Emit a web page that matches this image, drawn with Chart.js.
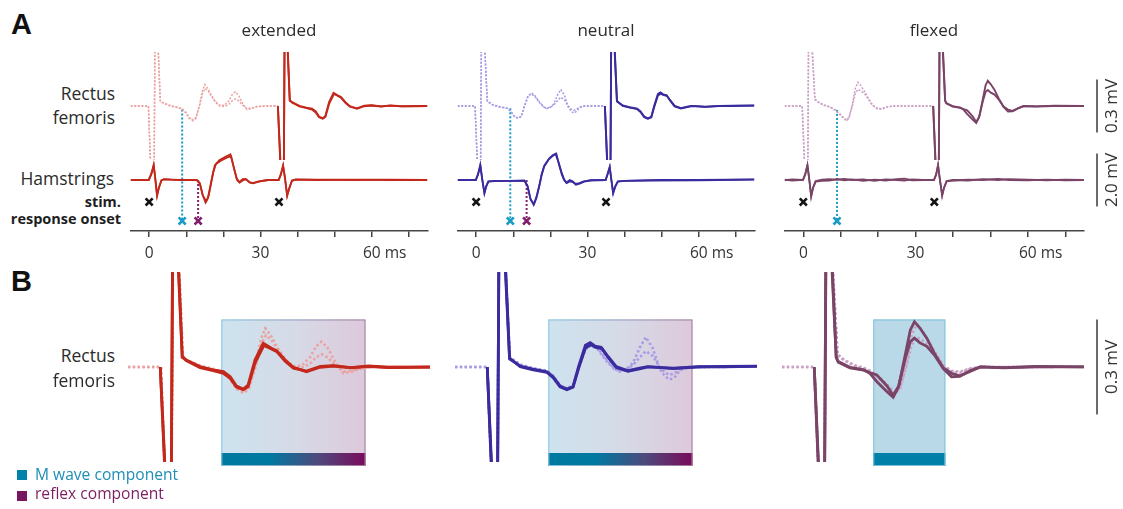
<!DOCTYPE html>
<html>
<head>
<meta charset="utf-8">
<script src="https://cdn.jsdelivr.net/npm/chart.js@4.4.1/dist/chart.umd.min.js"></script>
<style>
  body { margin: 0; background: #fff; }
  #wrap { position: relative; width: 1123px; height: 509px; overflow: hidden; background: #fff;
          font-family: 'Open Sans', sans-serif; color: #2b2b2b; }
  canvas { position: absolute; }
  .t { position: absolute; white-space: nowrap; line-height: 1; }
  .r { text-align: right; }
  .lab { font-size: 17.5px; }
  .bold { font-weight: bold; font-size: 14.5px; color: #1e1e1e; }
  .big { font: bold 29px 'Liberation Sans', Arial, sans-serif; color: #111; }
  .head { font-size: 17px; transform: translateX(-50%); }
  .sq { position: absolute; width: 10px; height: 10px; }
</style>
</head>
<body>
<div id="wrap">
  <canvas id="a0" width="312" height="221" style="left:123px;top:40px"></canvas>
  <canvas id="a1" width="312" height="221" style="left:450px;top:40px"></canvas>
  <canvas id="a2" width="346" height="221" style="left:777px;top:40px"></canvas>
  <canvas id="b0" width="312" height="210" style="left:123px;top:262px"></canvas>
  <canvas id="b1" width="312" height="210" style="left:450px;top:262px"></canvas>
  <canvas id="b2" width="346" height="210" style="left:777px;top:262px"></canvas>

  <div class="t big" style="left:11px;top:8px">A</div>
  <div class="t big" style="left:11px;top:265px">B</div>

  <div class="t head" style="left:279px;top:21px">extended</div>
  <div class="t head" style="left:606px;top:21px">neutral</div>
  <div class="t head" style="left:934px;top:21px">flexed</div>

  <div class="t lab r" style="right:1008px;top:85px">Rectus</div>
  <div class="t lab r" style="right:1008px;top:109px">femoris</div>
  <div class="t lab r" style="right:1009px;top:170px">Hamstrings</div>
  <div class="t bold r" id="row1" style="right:1002px;top:195px"></div>
  <div class="t bold r" id="row2" style="right:1002px;top:212px"></div>

  <div class="t lab r" style="right:1008px;top:347px">Rectus</div>
  <div class="t lab r" style="right:1008px;top:372px">femoris</div>

  <div class="sq" style="left:17px;top:470px;background:#0082a9"></div>
  <div class="t" style="left:35px;top:467px;font-size:15.6px;color:#1f8db6">M wave component</div>
  <div class="sq" style="left:17px;top:491px;background:#7a1660"></div>
  <div class="t" style="left:35px;top:486px;font-size:15.6px;color:#7b1f61">reflex component</div>
</div>

<script>
// ---- data (ms, mV) ----
const conditions = ['extended', 'neutral', 'flexed'];
const stimTimes = [0, 35];
const xTickMarks = [0, 10, 20, 30, 40, 50, 60, 70];
const xTickValues = [0, 30, 60];
const xTickLabels = ['0', '30', '60'];
const markRows = ['stim.', 'response onset'];

// rectus femoris, response to 1st stimulus (light dotted traces)
const extRf1a = [[-5,0],[-0.2,0],[0.35,-0.33],[0.7,-1.5],[1.0,-1.5],[1.9,1.5],[2.2,1.5],[2.45,0.3],[3.0,0.03],[3.5,0.022],[5.5,0.004],[7.4,-0.006],[8.9,-0.015],[9.9,-0.035],[10.8,-0.066],[11.8,-0.083],[12.6,-0.07],[13.6,0.01],[14.4,0.09],[15.0,0.122],[15.8,0.1],[16.8,0.06],[17.9,0.025],[19.1,0.002],[20.3,0.004],[21.5,0.03],[22.4,0.065],[23.2,0.08],[24.1,0.06],[25.2,0.015],[26.4,-0.02],[27.6,-0.015],[29,-0.004],[31,0],[34.7,0]];
const extRf1b = [[-5,0],[-0.2,0],[0.4,-0.33],[0.7,-1.5],[1.0,-1.5],[1.9,1.5],[2.2,1.5],[2.5,0.3],[3.0,0.025],[3.5,0.02],[5.5,0.002],[7.4,-0.008],[8.9,-0.018],[9.9,-0.04],[10.8,-0.07],[11.8,-0.078],[12.6,-0.065],[13.6,0.0],[14.4,0.07],[15.1,0.1],[15.9,0.085],[16.8,0.055],[17.9,0.02],[19.1,0.0],[20.3,-0.003],[21.5,0.01],[22.4,0.03],[23.2,0.04],[24.1,0.03],[25.2,0.005],[26.4,-0.015],[27.6,-0.012],[29,-0.003],[31,0],[34.7,0]];
const neuRf1a = [[-5,0],[-0.3,0],[0.3,-0.33],[0.6,-1.5],[0.9,-1.5],[1.7,1.5],[2.1,1.5],[2.35,0.3],[3.0,0.03],[4.5,0.008],[6.4,-0.004],[8.4,-0.012],[9.3,-0.028],[10.3,-0.058],[11.3,-0.07],[12.2,-0.06],[13,-0.005],[14,0.055],[14.9,0.075],[15.8,0.06],[17.1,0.022],[18.2,-0.005],[19,-0.015],[20,-0.008],[20.9,0.012],[21.9,0.06],[22.8,0.094],[23.8,0.06],[24.8,-0.005],[25.6,-0.03],[26.3,-0.04],[27.1,-0.03],[27.8,-0.01],[29.2,0],[34.7,0]];
const neuRf1b = [[-5,0],[-0.3,0],[0.35,-0.33],[0.6,-1.5],[0.9,-1.5],[1.7,1.5],[2.1,1.5],[2.4,0.3],[3.0,0.025],[4.5,0.005],[6.4,-0.006],[8.4,-0.014],[9.3,-0.03],[10.3,-0.06],[11.3,-0.068],[12.2,-0.058],[13,0.0],[14,0.06],[14.9,0.068],[15.8,0.055],[17.1,0.018],[18.2,-0.006],[19,-0.012],[20,-0.006],[20.9,0.005],[21.9,0.03],[22.8,0.05],[23.8,0.035],[24.8,0.0],[25.6,-0.018],[26.3,-0.025],[27.1,-0.018],[27.8,-0.006],[29.2,0],[34.7,0]];
const flexRf1a = [[-5,0],[-0.3,0],[0.3,-0.33],[0.6,-1.5],[0.9,-1.5],[1.7,1.5],[2.1,1.5],[2.4,0.3],[3.1,0.04],[4.1,0.022],[5.5,0.006],[6.8,-0.002],[7.8,-0.012],[8.8,-0.025],[10.3,-0.055],[11.5,-0.085],[12.2,-0.07],[13.1,0.01],[13.9,0.1],[14.6,0.135],[15.4,0.115],[16.4,0.08],[17.5,0.04],[18.5,0.005],[19.7,-0.015],[20.9,-0.018],[22.4,-0.006],[24,0],[34.7,0]];
const flexRf1b = [[-5,0],[-0.3,0],[0.35,-0.33],[0.6,-1.5],[0.9,-1.5],[1.7,1.5],[2.1,1.5],[2.45,0.3],[3.1,0.035],[4.1,0.02],[5.5,0.004],[6.8,-0.004],[7.8,-0.014],[8.8,-0.03],[10.3,-0.06],[11.5,-0.078],[12.2,-0.065],[13.1,0.0],[13.9,0.07],[14.6,0.094],[15.4,0.085],[16.4,0.068],[17.5,0.035],[18.5,0.004],[19.7,-0.012],[20.9,-0.015],[22.4,-0.005],[24,0],[34.7,0]];

// rectus femoris, response to 2nd stimulus, time from that stimulus (solid traces)
const extRf2a = [[-0.3,0],[0.35,-0.32],[0.6,-1.5],[1.0,-1.5],[1.8,1.5],[2.2,1.5],[2.35,0.3],[2.9,0.03],[3.5,0.022],[5.5,0.001],[7.4,-0.009],[8.9,-0.015],[9.9,-0.031],[10.8,-0.06],[11.8,-0.07],[12.5,-0.057],[13.5,0.022],[14.7,0.075],[15.9,0.059],[16.7,0.051],[17.9,0.022],[19.1,-0.001],[21,-0.015],[23,-0.001],[24.9,0.003],[27.5,-0.003],[30,0.002],[33,-0.002],[40,0]];
const extRf2b = [[-0.3,0],[0.4,-0.32],[0.6,-1.5],[1.0,-1.5],[1.8,1.5],[2.2,1.5],[2.4,0.3],[2.9,0.035],[3.5,0.02],[5.5,-0.002],[7.4,-0.012],[8.9,-0.02],[9.9,-0.036],[10.8,-0.064],[11.8,-0.072],[12.5,-0.062],[13.5,0.012],[14.8,0.068],[15.9,0.057],[16.7,0.048],[17.9,0.018],[19.1,-0.004],[21,-0.013],[23,0.002],[24.9,0.004],[27.5,-0.002],[30,0.003],[33,-0.001],[40,0]];
const neuRf2a = [[-0.3,0],[0.3,-0.32],[0.6,-1.5],[0.9,-1.5],[1.7,1.5],[2.1,1.5],[2.35,0.3],[2.95,0.025],[4.5,0.003],[6.4,-0.007],[8.4,-0.015],[9.3,-0.031],[10.3,-0.06],[11.3,-0.07],[12.2,-0.062],[13,0.001],[14,0.069],[14.7,0.077],[15.4,0.066],[16.3,0.062],[17.3,0.033],[18.5,0.001],[20.2,-0.012],[21.9,-0.004],[23.1,0.001],[26.8,-0.005],[30.6,0],[34,0.002],[40,0.003]];
const neuRf2b = [[-0.3,0],[0.35,-0.32],[0.6,-1.5],[0.9,-1.5],[1.7,1.5],[2.1,1.5],[2.4,0.3],[2.95,0.028],[4.5,0.001],[6.4,-0.009],[8.4,-0.017],[9.3,-0.034],[10.3,-0.063],[11.3,-0.072],[12.2,-0.064],[13,-0.005],[14,0.06],[14.8,0.07],[15.5,0.062],[16.4,0.058],[17.3,0.03],[18.5,-0.002],[20.2,-0.014],[21.9,-0.006],[23.1,0.0],[26.8,-0.004],[30.6,0.001],[34,0],[40,0.002]];
const flexRf2a = [[-0.3,0],[0.3,-0.32],[0.6,-1.5],[0.9,-1.5],[1.7,1.5],[2.1,1.5],[2.3,0.3],[2.9,0.03],[3.2,0.017],[4.9,-0.001],[6.9,-0.009],[7.8,-0.02],[8.8,-0.046],[10.3,-0.078],[11.2,-0.096],[12,-0.062],[13,0.043],[13.7,0.117],[14.3,0.143],[15.1,0.123],[16.1,0.091],[17.3,0.039],[18.5,-0.003],[19.7,-0.02],[20.9,-0.028],[22.4,-0.014],[23.9,0],[27.3,-0.002],[32,0.002],[40,0]];
const flexRf2b = [[-0.3,0],[0.35,-0.32],[0.6,-1.5],[0.9,-1.5],[1.7,1.5],[2.1,1.5],[2.35,0.3],[2.9,0.03],[3.2,0.015],[4.9,-0.003],[6.9,-0.01],[7.8,-0.018],[8.8,-0.025],[10.3,-0.06],[11.2,-0.09],[12,-0.06],[13,0.03],[13.7,0.08],[14.3,0.091],[15.1,0.076],[16.1,0.065],[17.3,0.035],[18.5,-0.005],[19.7,-0.031],[20.9,-0.03],[22.4,-0.012],[23.9,0],[27.3,-0.003],[32,0],[40,0]];

// hamstrings, whole sweep
const extHsA = [[-5,0],[-0.1,0],[0.6,0.25],[1.2,0.57],[1.6,0.1],[2.1,-0.57],[2.6,-0.3],[3.3,-0.02],[4,0.03],[6,0.01],[9,0],[12.8,0],[13.6,-0.1],[14.4,-0.55],[15.2,-0.85],[15.8,-0.7],[16.4,-0.3],[17.1,0.2],[17.7,0.55],[18.9,0.75],[20.7,0.88],[21.9,0.97],[22.9,0.42],[23.6,0.05],[24.3,-0.08],[25.2,0.03],[26,0.04],[27,-0.08],[27.9,-0.12],[29.5,-0.05],[32,0],[34.9,0],[35.5,0.2],[36.1,0.55],[36.6,0.1],[37.2,-0.6],[37.7,-0.35],[38.5,-0.03],[39.5,0.02],[45,0.01],[55,0],[65,0.01],[75,0]];
const extHsB = [[-5,0],[-0.1,0],[0.6,0.22],[1.25,0.55],[1.65,0.08],[2.15,-0.6],[2.65,-0.28],[3.3,-0.01],[4,0.02],[6,0.01],[9,0],[12.8,0],[13.7,-0.15],[14.5,-0.6],[15.4,-0.8],[16,-0.62],[16.6,-0.2],[17.3,0.3],[18,0.6],[19.2,0.72],[20.9,0.84],[22.1,0.9],[23,0.38],[23.7,0.0],[24.4,-0.1],[25.4,0.0],[26.2,0.02],[27.2,-0.1],[28,-0.13],[29.6,-0.06],[32,0],[34.9,0],[35.5,0.22],[36.1,0.53],[36.6,0.08],[37.2,-0.58],[37.7,-0.33],[38.5,-0.02],[39.5,0.01],[45,0],[55,0.01],[65,0],[75,0]];
const neuHsA = [[-5,0],[-0.1,0],[0.5,0.2],[1.1,0.57],[1.6,0.05],[2.2,-0.48],[2.7,-0.25],[3.3,-0.06],[5,-0.04],[9,-0.03],[13,-0.03],[13.8,-0.2],[14.6,-0.7],[15.5,-0.94],[16.2,-0.7],[17,-0.25],[17.6,0.15],[18.3,0.5],[19.6,0.78],[20.6,0.9],[21.4,0.98],[22.3,0.63],[23,0.3],[23.6,0.06],[24.3,-0.1],[25.2,0.0],[26,-0.05],[26.8,-0.15],[27.8,-0.12],[29,-0.05],[31,-0.01],[34.9,0],[35.4,0.2],[36,0.48],[36.4,0.05],[36.9,-0.48],[37.5,-0.25],[38.2,-0.06],[40,-0.03],[50,-0.01],[60,0],[75,0.02]];
const neuHsB = [[-5,0],[-0.1,0],[0.5,0.22],[1.15,0.55],[1.65,0.02],[2.25,-0.5],[2.75,-0.22],[3.3,-0.05],[5,-0.03],[9,-0.03],[13,-0.02],[13.9,-0.25],[14.7,-0.75],[15.6,-0.9],[16.3,-0.62],[17.1,-0.15],[17.7,0.25],[18.4,0.55],[19.7,0.82],[20.7,0.94],[21.6,1.0],[22.4,0.55],[23.1,0.2],[23.7,0.0],[24.4,-0.12],[25.3,-0.05],[26.1,-0.08],[26.9,-0.18],[27.9,-0.14],[29.1,-0.06],[31,-0.01],[34.9,0],[35.4,0.22],[36,0.5],[36.4,0.05],[36.95,-0.5],[37.5,-0.24],[38.2,-0.05],[40,-0.03],[50,0],[60,-0.01],[75,0.01]];
const flexHsA = [[-5,0.01],[-3,-0.02],[-0.1,0],[0.5,0.2],[1.1,0.57],[1.6,0.0],[2.1,-0.63],[2.6,-0.3],[3.3,-0.06],[5,-0.03],[7,-0.02],[9,0.03],[11,-0.01],[13,0.02],[16,-0.03],[19,0.01],[22,-0.02],[25,0.03],[27,0.05],[29,-0.01],[32,0],[34.9,0],[35.5,0.2],[36,0.57],[36.5,0.0],[37.1,-0.57],[37.6,-0.3],[38.3,-0.05],[40,-0.02],[44,0.01],[48,0],[52,0.04],[55,0.0],[60,-0.01],[65,0.01],[70,-0.01],[75,0]];
const flexHsB = [[-5,-0.01],[-3,0.02],[-0.1,0],[0.5,0.22],[1.1,0.55],[1.6,0.02],[2.1,-0.6],[2.6,-0.28],[3.3,-0.04],[5,0.01],[7,0.03],[9,0.01],[11,0.04],[13,0.0],[16,0.02],[19,-0.03],[22,0.02],[25,0.0],[27,-0.02],[29,0.02],[32,0],[34.9,0],[35.5,0.22],[36,0.55],[36.5,0.02],[37.1,-0.6],[37.6,-0.28],[38.3,-0.04],[40,0.0],[44,-0.02],[48,0.03],[52,0.0],[55,0.03],[60,0.01],[65,-0.01],[70,0.01],[75,0]];

const rf1 = [[extRf1a, extRf1b], [neuRf1a, neuRf1b], [flexRf1a, flexRf1b]];
const rf2 = [[extRf2a, extRf2b], [neuRf2a, neuRf2b], [flexRf2a, flexRf2b]];
const hs = [[extHsA, extHsB], [neuHsA, neuHsB], [flexHsA, flexHsB]];

// response onsets (ms) and the RF level where the M-wave onset line starts (mV)
const mOnsets = [8.9, 9.2, 9.0];
const mOnsetLevel = [-0.02, -0.013, -0.022];
const rOnsets = [13.2, 13.6, null];

// analysis windows in panel B (ms after stimulus), top edge in mV
const boxStart = [8.6, 8.6, 8.3];
const boxEnd = [29.6, 29.6, 18.8];
const boxTop = 0.15;

// ---- styles ----
const darkColors = ['#c2281b', '#3a2c9e', '#7a4467'];
const lightColors = ['#eaa3a2', '#a69be4', '#caa1c5'];
const cyan = '#1b9cc4';
const purple = '#80206c';
const boxFills = [['#cde3ef', '#d6dae7', '#ddc9db'], ['#cde3ef', '#d6dae7', '#ddc9db'], ['#b9d9e8', '#b9d9e8']];
const barFills = [['#0079a1', '#0079a1', '#4d4a7c', '#7b0b5b'], ['#0079a1', '#0079a1', '#4d4a7c', '#7b0b5b'], ['#0080a9', '#0080a9']];
const boxEdges = [['#84c4dc', '#a07a9c'], ['#84c4dc', '#a07a9c'], ['#7cc2db', '#7cc2db']];

document.getElementById('row1').textContent = markRows[0];
document.getElementById('row2').textContent = markRows[1];

function grad(ctx, x0, x1, cols) {
  const g = ctx.createLinearGradient(x0, 0, x1, 0);
  cols.forEach((c, k) => g.addColorStop(k / (cols.length - 1), c));
  return g;
}

function decorPlugin(cfg) {
  return {
    id: 'decor',
    beforeDatasetsDraw(chart) {
      const { ctx, scales, chartArea } = chart;
      ctx.save();
      if (cfg.box) {
        const b = cfg.box;
        const x0 = scales.x.getPixelForValue(b.start);
        const x1 = scales.x.getPixelForValue(b.end);
        const yT = scales.y.getPixelForValue(b.top);
        const yB = chartArea.bottom;
        const yBar = yB - 13;
        ctx.fillStyle = grad(ctx, x0, x1, b.fill);
        ctx.fillRect(x0, yT, x1 - x0, yB - yT);
        ctx.fillStyle = grad(ctx, x0, x1, b.bar);
        ctx.fillRect(x0, yBar, x1 - x0, yB - yBar);
        ctx.strokeStyle = grad(ctx, x0, x1, b.edge);
        ctx.lineWidth = 1;
        ctx.strokeRect(x0 + 0.5, yT + 0.5, x1 - x0 - 1, yB - yT - 1);
      }
      (cfg.onsets || []).forEach(o => {
        const x = scales.x.getPixelForValue(o.t);
        const y0 = scales[o.axis].getPixelForValue(o.level);
        const y1 = scales.yRow.getPixelForValue(2);
        ctx.beginPath();
        ctx.setLineDash([2, 2]);
        ctx.lineWidth = 2;
        ctx.strokeStyle = o.color;
        ctx.moveTo(x, y0);
        ctx.lineTo(x, y1);
        ctx.stroke();
      });
      ctx.restore();
    },
    afterDraw(chart) {
      const { ctx, scales, chartArea } = chart;
      (cfg.bars || []).forEach(b => {
        const s = scales[b.axis];
        const y0 = s.getPixelForValue(b.from), y1 = s.getPixelForValue(b.to);
        const x = chartArea.right + 13;
        ctx.save();
        ctx.strokeStyle = '#3a3a3a';
        ctx.lineWidth = 1.5;
        ctx.beginPath();
        ctx.moveTo(x, y0);
        ctx.lineTo(x, y1);
        ctx.stroke();
        ctx.translate(x + 15, (y0 + y1) / 2);
        ctx.rotate(-Math.PI / 2);
        ctx.font = '17px "Open Sans"';
        ctx.fillStyle = '#333';
        ctx.textAlign = 'center';
        ctx.textBaseline = 'middle';
        ctx.fillText(b.label, 0, 0);
        ctx.restore();
      });
      if (cfg.unit) {
        const last = xTickLabels[xTickLabels.length - 1];
        const item = scales.x.getLabelItems().find(it => it.label === last);
        if (item) {
          ctx.save();
          ctx.font = item.font.string;
          ctx.fillStyle = '#333';
          ctx.textAlign = 'left';
          ctx.textBaseline = item.options.textBaseline;
          const w = ctx.measureText(last).width;
          ctx.fillText(' ' + cfg.unit, item.options.translation[0] + w / 2, item.options.translation[1] + item.textOffset);
          ctx.restore();
        }
      }
    }
  };
}

function trace(data, axis, color, width, dash, clip) {
  return {
    data: data, yAxisID: axis, borderColor: color, borderWidth: width,
    borderDash: dash || [], pointRadius: 0, tension: 0, fill: false, clip: clip
  };
}

function marks(data, color) {
  return {
    data: data, yAxisID: 'yRow', showLine: false, pointStyle: 'crossRot',
    pointRadius: 5, pointBorderWidth: 2.6, borderColor: color, pointBorderColor: color,
    backgroundColor: color
  };
}

const padRight = [5, 5, 39];

function chartA(i) {
  const dark = darkColors[i], light = lightColors[i];
  const clipRF = { left: 0, top: 0, right: 0, bottom: -71 };
  const sets = [];
  sets.push(marks(stimTimes.map(t => [t, 1]), '#151515'));
  sets.push(marks([[mOnsets[i], 2]], cyan));
  if (rOnsets[i] !== null) sets.push(marks([[rOnsets[i], 2]], purple));
  rf2[i].forEach(d => sets.push(trace(d.map(p => [p[0] + stimTimes[1], p[1]]), 'yRF', dark, 1.9, null, clipRF)));
  hs[i].forEach(d => sets.push(trace(d, 'yHS', dark, 1.8)));
  rf1[i].forEach(d => sets.push(trace(d, 'yRF', light, 1.5, [2, 1.6], clipRF)));

  const onsets = [{ t: mOnsets[i], axis: 'yRF', level: mOnsetLevel[i], color: cyan }];
  if (rOnsets[i] !== null) onsets.push({ t: rOnsets[i], axis: 'yHS', level: 0, color: purple });
  const cfg = { onsets: onsets, unit: 'ms' };
  if (i === 2) cfg.bars = [
    { axis: 'yRF', from: -0.15, to: 0.15, label: '0.3 mV' },
    { axis: 'yHS', from: -1, to: 1, label: '2.0 mV' }
  ];

  new Chart(document.getElementById('a' + i), {
    type: 'line',
    data: { datasets: sets },
    options: {
      responsive: false, animation: false, events: [],
      layout: { padding: { top: 12, left: 5, right: padRight[i], bottom: 0 } },
      plugins: { legend: { display: false }, tooltip: { enabled: false } },
      scales: {
        x: {
          type: 'linear', min: -5, max: 75,
          afterFit: s => { s.height = 30; },
          afterBuildTicks: s => { s.ticks = xTickMarks.map(v => ({ value: v })); },
          border: { display: true, color: '#444', width: 1.5 },
          grid: { display: true, drawOnChartArea: false, drawTicks: true, tickLength: 6, color: '#444', lineWidth: 1.5 },
          ticks: {
            autoSkip: false, maxRotation: 0, padding: 7,
            color: '#333', font: { family: 'Open Sans', size: 15.5 },
            callback: v => { const k = xTickValues.indexOf(v); return k >= 0 ? xTickLabels[k] : ''; }
          }
        },
        yRF: { type: 'linear', display: false, min: -0.708, max: 0.306 },
        yHS: { type: 'linear', display: false, min: -1.925, max: 4.83 },
        yRow: { type: 'linear', display: false, reverse: true, min: -6.9, max: 2.53 }
      }
    },
    plugins: [decorPlugin(cfg)]
  });
}

function chartB(i) {
  const dark = darkColors[i], light = lightColors[i];
  const clipB = { left: 0, top: 0, right: 0, bottom: -4 };
  const sets = [];
  rf2[i].forEach(d => sets.push(trace(d, 'y', dark, 2.8, null, clipB)));
  rf1[i].forEach(d => sets.push(trace(d, 'y', light, 2.6, [2.4, 2.4], clipB)));
  const cfg = {
    box: { start: boxStart[i], end: boxEnd[i], top: boxTop, fill: boxFills[i], bar: barFills[i], edge: boxEdges[i] }
  };
  if (i === 2) cfg.bars = [{ axis: 'y', from: -0.15, to: 0.15, label: '0.3 mV' }];

  new Chart(document.getElementById('b' + i), {
    type: 'line',
    data: { datasets: sets },
    options: {
      responsive: false, animation: false, events: [],
      layout: { padding: { top: 10, left: 5, right: padRight[i], bottom: 6 } },
      plugins: { legend: { display: false }, tooltip: { enabled: false } },
      scales: {
        x: { type: 'linear', display: false, min: -5, max: 39 },
        y: { type: 'linear', display: false, min: -0.313, max: 0.3 }
      }
    },
    plugins: [decorPlugin(cfg)]
  });
}

conditions.forEach((c, i) => { chartA(i); chartB(i); });
</script>
</body>
</html>
